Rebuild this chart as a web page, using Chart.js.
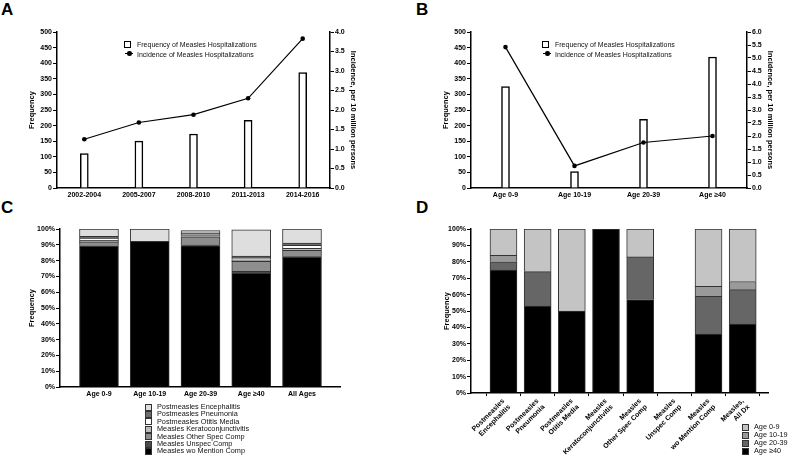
<!DOCTYPE html>
<html>
<head>
<meta charset="utf-8">
<script src="https://cdn.jsdelivr.net/npm/chart.js"></script>
<style>
  body { margin: 0; background: #fff; font-family: "Liberation Sans", Arial, sans-serif; }
  #fig { position: relative; width: 788px; height: 456px; overflow: hidden; background: #fff; }
  .panel { position: absolute; }
  .letter { position: absolute; font-weight: bold; font-size: 17px; line-height: 1; color: #000; }
  .leg { position: absolute; font-size: 7.3px; line-height: 1; color: #111; white-space: nowrap; will-change: transform; }
  .leg.combo { font-size: 7px; }
  .sw { position: absolute; box-sizing: border-box; border: 1px solid #333; }
  .lt { position: absolute; transform: translateY(-50%); }
</style>
</head>
<body>
<div id="fig">
  <div class="letter" style="left:1px;top:1px">A</div>
  <div class="letter" style="left:416px;top:1px">B</div>
  <div class="letter" style="left:1px;top:199px">C</div>
  <div class="letter" style="left:416px;top:199px">D</div>

  <canvas id="chartA" class="panel" style="left:0;top:0" width="394" height="200"></canvas>
  <canvas id="chartB" class="panel" style="left:394px;top:0" width="394" height="200"></canvas>
  <canvas id="chartC" class="panel" style="left:0;top:200px" width="394" height="200"></canvas>
  <canvas id="chartD" class="panel" style="left:394px;top:200px" width="394" height="256"></canvas>

  <div id="legA" class="leg combo" style="left:124px;top:44px"></div>
  <div id="legB" class="leg combo" style="left:542px;top:44px"></div>
  <div id="legC" class="leg" style="left:145px;top:407px"></div>
  <div id="legD" class="leg" style="left:742px;top:427px"></div>
</div>
<script>
// Panel A: by period
const periodLabels = ['2002-2004', '2005-2007', '2008-2010', '2011-2013', '2014-2016'];
const periodFrequency = [110, 150, 173, 217, 370];
const periodIncidence = [1.25, 1.68, 1.88, 2.3, 3.83];

// Panel B: by age group
const ageLabels = ['Age 0-9', 'Age 10-19', 'Age 20-39', 'Age ≥40'];
const ageFrequency = [325, 53, 220, 420];
const ageIncidence = [5.42, 0.85, 1.75, 2.0];

// Panel C: complication share per age group (%)
const compGroups = ['Age 0-9', 'Age 10-19', 'Age 20-39', 'Age ≥40', 'All Ages'];
const woMentionComp   = [89.0, 92.2, 89.4, 72.0, 82.0];
const unspecComp      = [0.4, 0, 0.4, 1.2, 0.5];
const otherSpecComp   = [2.5, 0, 5.3, 6.3, 4.0];
const keratoconj      = [1.0, 0, 0.8, 1.0, 1.3];
const otitisMedia     = [1.4, 0, 0.8, 1.2, 1.8];
const pneumonia       = [1.0, 0, 0.8, 1.2, 1.5];
const encephalitis    = [4.7, 7.8, 1.5, 16.5, 8.9];

// Panel D: age share per complication (%)
const dxLabels = [
  ['Postmeasles', 'Encephalitis'], ['Postmeasles', 'Pneumonia'], ['Postmeasles', 'Otitis Media'],
  ['Measles', 'Keratoconjunctivitis'], ['Measles', 'Other Spec Comp'], ['Measles', 'Unspec Comp'],
  ['Measles', 'wo Mention Comp'], ['Measles,', 'All Dx']
];
const age40Share = [75, 53, 50, 100, 57, 0, 36, 42];
const age20Share = [5, 21, 0, 0, 26, 0, 23, 21];
const age10Share = [4, 0, 0, 0, 0, 0, 6, 5];
const age0Share  = [16, 26, 50, 0, 17, 0, 35, 32];

const FONT = '"Liberation Sans", Arial, sans-serif';
const tickFont = { family: FONT, size: 7, weight: 'bold' };
const titleFont = { family: FONT, size: 7.5, weight: 'bold' };

function valueAxis(opts) {
  return {
    type: 'linear',
    position: opts.position || 'left',
    min: opts.min, max: opts.max,
    stacked: !!opts.stacked,
    afterFit: (s) => { s.width = opts.width; },
    border: { color: '#000', width: 1.5 },
    grid: { display: true, drawOnChartArea: false, color: '#000', tickLength: 4, lineWidth: 1 },
    ticks: {
      stepSize: opts.step, color: '#000', font: tickFont, padding: 1,
      callback: opts.fmt || ((v) => v)
    },
    title: {
      display: true, text: opts.title, color: '#000', font: titleFont,
      padding: { top: opts.titlePad, bottom: 0 }
    }
  };
}

function categoryAxis(height) {
  return {
    type: 'category', offset: true,
    afterFit: (s) => { s.height = height; },
    border: { color: '#000', width: 1.5 },
    grid: { display: false, drawTicks: false },
    ticks: { color: '#000', font: tickFont, padding: 3, maxRotation: 0, autoSkip: false }
  };
}

// linear x axis so the outer gaps can differ from half a category
function indexAxis(labels, min, max, height, rot, tickLen) {
  return {
    type: 'linear', stacked: true, offset: false, min: min, max: max,
    afterFit: (s) => { s.height = height; },
    afterBuildTicks: (s) => { s.ticks = labels.map((_, i) => ({ value: i })); },
    border: { color: '#000', width: 1.5 },
    grid: tickLen
      ? { display: true, drawOnChartArea: false, color: '#000', tickLength: tickLen, lineWidth: 1 }
      : { display: false, drawTicks: false },
    ticks: {
      color: '#000', font: tickFont, padding: tickLen ? 1 : 3, autoSkip: false,
      minRotation: rot, maxRotation: rot,
      callback: (v) => labels[v]
    }
  };
}

const base = {
  responsive: false, animation: false, devicePixelRatio: 1,
  plugins: { legend: { display: false }, tooltip: { enabled: false } }
};

function comboChart(id, labels, freq, inc, incMax, pad, yW, y1W, tPadL, tPadR) {
  new Chart(document.getElementById(id), {
    type: 'bar',
    data: {
      labels: labels,
      datasets: [
        { type: 'line', data: inc, yAxisID: 'y1', order: 0, borderColor: '#000', borderWidth: 1.2,
          pointRadius: 2.3, pointBackgroundColor: '#000', pointBorderWidth: 0 },
        { type: 'bar', data: freq, yAxisID: 'y', order: 1, backgroundColor: '#fff',
          borderColor: '#000', borderWidth: 1.5, barThickness: 8 }
      ]
    },
    options: Object.assign({}, base, {
      layout: { padding: pad },
      scales: {
        x: categoryAxis(12),
        y: valueAxis({ min: 0, max: 500, step: 50, width: yW, title: 'Frequency', titlePad: tPadL }),
        y1: valueAxis({ position: 'right', min: 0, max: incMax, step: 0.5, width: y1W,
          title: 'Incidence, per 10 million persons', titlePad: tPadR, fmt: (v) => v.toFixed(1) })
      }
    })
  });
}

comboChart('chartA', periodLabels, periodFrequency, periodIncidence, 4, { top: 32 }, 57, 64, 27.5, 36.5);
comboChart('chartB', ageLabels, ageFrequency, ageIncidence, 6, { top: 32 }, 77, 41, 47.5, 13.5);

// Panel C
const compSeries = [
  { name: 'Measles wo Mention Comp', data: woMentionComp, color: '#000000' },
  { name: 'Measles Unspec Comp', data: unspecComp, color: '#4a4a4a' },
  { name: 'Measles Other Spec Comp', data: otherSpecComp, color: '#8e8e8e' },
  { name: 'Measles Keratoconjunctivitis', data: keratoconj, color: '#bdbdbd' },
  { name: 'Postmeasles Otitis Media', data: otitisMedia, color: '#ffffff' },
  { name: 'Postmeasles Pneumonia', data: pneumonia, color: '#6e6e6e' },
  { name: 'Postmeasles Encephalitis', data: encephalitis, color: '#dedede' }
];
const pct = (v) => v + '%';

new Chart(document.getElementById('chartC'), {
  type: 'bar',
  data: {
    datasets: compSeries.map((s) => ({
      label: s.name,
      data: s.data.map((v, i) => ({ x: i, y: v })),
      backgroundColor: s.color, borderColor: '#333', borderWidth: 1, barThickness: 39
    }))
  },
  options: Object.assign({}, base, {
    layout: { padding: { top: 29, right: 54 } },
    scales: {
      x: indexAxis(compGroups, -0.768, 4.749, 13, 0, 0),
      y: valueAxis({ min: 0, max: 100, step: 10, width: 60, title: 'Frequency', titlePad: 27.5, fmt: pct, stacked: true })
    }
  })
});

// Panel D
const ageSeries = [
  { name: 'Age ≥40', data: age40Share, color: '#000000' },
  { name: 'Age 20-39', data: age20Share, color: '#666666' },
  { name: 'Age 10-19', data: age10Share, color: '#9a9a9a' },
  { name: 'Age 0-9', data: age0Share, color: '#c4c4c4' }
];

new Chart(document.getElementById('chartD'), {
  type: 'bar',
  data: {
    datasets: ageSeries.map((s) => ({
      label: s.name,
      data: s.data.map((v, i) => ({ x: i, y: v })),
      backgroundColor: s.color, borderColor: '#333', borderWidth: 1, barThickness: 27
    }))
  },
  options: Object.assign({}, base, {
    layout: { padding: { top: 29, right: 20 } },
    scales: {
      x: indexAxis(dxLabels, -0.95, 7.74, 63, 45, 3),
      y: valueAxis({ min: 0, max: 100, step: 10, width: 77, title: 'Frequency', titlePad: 48.5, fmt: pct, stacked: true })
    }
  })
});

// legends
function swatchLegend(id, items, size, rowH, textX) {
  const el = document.getElementById(id);
  items.forEach((it, i) => {
    const y = i * rowH;
    const sw = document.createElement('div');
    sw.className = 'sw';
    sw.style.cssText = 'left:0;top:' + (y - size / 2) + 'px;width:' + size + 'px;height:' + size + 'px;background:' + it.color;
    el.appendChild(sw);
    const t = document.createElement('div');
    t.className = 'lt';
    t.style.cssText = 'left:' + textX + 'px;top:' + y + 'px';
    t.textContent = it.name;
    el.appendChild(t);
  });
}

function comboLegend(id) {
  const el = document.getElementById(id);
  el.innerHTML =
    '<div class="sw" style="left:0;top:-3.5px;width:7px;height:7px;background:#fff;border:1.3px solid #000"></div>' +
    '<div class="lt" style="left:13px;top:0">Frequency of Measles Hospitalizations</div>' +
    '<div style="position:absolute;left:1px;top:8.8px;width:8px;height:1.2px;background:#000"></div>' +
    '<div style="position:absolute;left:3px;top:7.3px;width:4.5px;height:4.5px;border-radius:50%;background:#000"></div>' +
    '<div class="lt" style="left:13px;top:9.5px">Incidence of Measles Hospitalizations</div>';
}

comboLegend('legA');
comboLegend('legB');
swatchLegend('legC', compSeries.slice().reverse(), 7, 7.4, 12);
swatchLegend('legD', ageSeries.slice().reverse(), 7, 8, 12);
</script>
</body>
</html>
